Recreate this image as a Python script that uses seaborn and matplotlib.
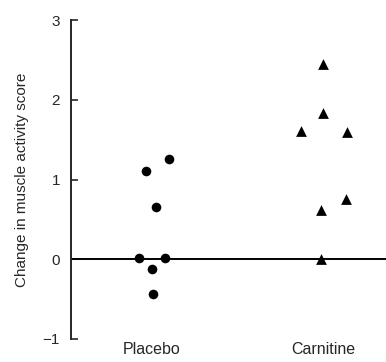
"""Dot plot: change in muscle activity score, placebo vs carnitine."""
import matplotlib
matplotlib.use("Agg")
import matplotlib.pyplot as plt
import numpy as np
import pandas as pd
import seaborn as sns

groups = ["Placebo", "Carnitine"]
placebo = [1.26, 1.11, 0.65, 0.02, 0.02, -0.12, -0.43]
placebo_dx = [0.10, -0.035, 0.023, -0.075, 0.075, 0.0, 0.005]
carnitine = [2.45, 1.83, 1.61, 1.59, 0.76, 0.62, 0.0]
carnitine_dx = [0.0, 0.0, -0.128, 0.14, 0.134, -0.012, -0.012]
y_ticks = [-1, 0, 1, 2, 3]

df = pd.DataFrame({
    "group": [groups[0]] * len(placebo) + [groups[1]] * len(carnitine),
    "x": [0 + d for d in placebo_dx] + [1 + d for d in carnitine_dx],
    "score": placebo + carnitine,
})

sns.set_style("ticks")
plt.rcParams["font.family"] = ["Liberation Sans", "DejaVu Sans"]

fig = plt.figure(figsize=(3.86, 3.62), dpi=100)
ax = fig.add_axes([71 / 386, 1 - 339 / 362, (386 - 71) / 386, (339 - 20) / 362])

sns.scatterplot(data=df[df.group == "Placebo"], x="x", y="score", marker="o",
                s=48, color="black", edgecolor="black", linewidth=0, ax=ax, zorder=3)
sns.scatterplot(data=df[df.group == "Carnitine"], x="x", y="score", marker="^",
                s=60, color="black", edgecolor="black", linewidth=0, ax=ax, zorder=3)

ax.axhline(0, color="black", linewidth=1.4, zorder=2)

ax.set_xlim(-0.474, 1.368)
ax.set_ylim(-1, 3)
ax.set_yticks(y_ticks)
ax.set_yticklabels(["\u22121", "0", "1", "2", "3"])
ax.set_xticks([0, 1])
ax.set_xticklabels(groups)

for side in ["top", "right", "bottom"]:
    ax.spines[side].set_visible(False)
ax.spines["left"].set_linewidth(1.4)

ax.tick_params(axis="y", direction="in", length=5, width=1.2, pad=8, labelsize=11)
ax.tick_params(axis="x", length=0, pad=2, labelsize=11.5)
ax.set_xlabel("")
ax.set_ylabel("Change in muscle activity score", fontsize=11, labelpad=10)

fig.savefig("out.png", dpi=100)
plt.close(fig)
